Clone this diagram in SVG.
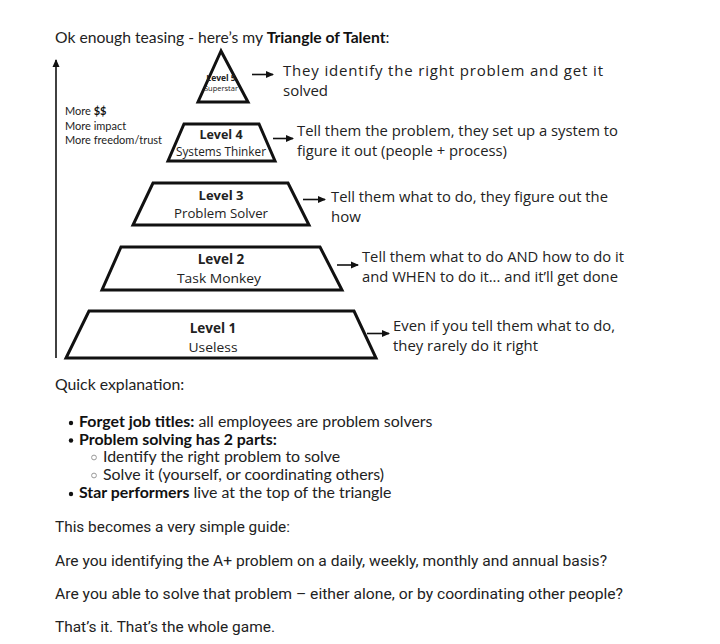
<svg xmlns="http://www.w3.org/2000/svg" width="720" height="644" viewBox="0 0 720 644">
<defs>
<marker id="ah" viewBox="0 0 8 8" refX="7" refY="4" markerWidth="8" markerHeight="8" markerUnits="userSpaceOnUse" orient="auto">
<path d="M0,0.5 L8,4 L0,7.5 z" fill="#111"/>
</marker>
<style>
.t{font-family:"Open Sans","Liberation Sans",sans-serif;fill:#222}
.l{font-family:Lato,"Open Sans","Liberation Sans",sans-serif;fill:#222}
.b{font-weight:bold;fill:#111}
.desc{font-family:"Open Sans","Liberation Sans",sans-serif;font-size:15px;fill:#222}
.lvl{font-family:"Open Sans","Liberation Sans",sans-serif;text-anchor:middle;fill:#222}
.shape{fill:#fff;stroke:#111;stroke-width:3;stroke-linejoin:miter}
.conn{stroke:#111;stroke-width:1.6;fill:none}
.body{font-family:"Roboto","Liberation Sans",sans-serif;font-size:15.5px;fill:#222}
.dot{fill:#111}
.ring{fill:none;stroke:#999;stroke-width:1}
</style>
</defs>
<rect width="720" height="644" fill="#fff"/>

<text class="l" x="55" y="43" font-size="15.7">Ok enough teasing - here’s my <tspan class="b">Triangle of Talent</tspan>:</text>

<g id="axis">
<line class="conn" x1="56" y1="358" x2="56" y2="60" marker-end="url(#ah)"/>
<text class="l" x="65" y="114.5" font-size="11">More <tspan class="b">$$</tspan></text>
<text class="l" x="65" y="130" font-size="11">More impact</text>
<text class="l" x="65" y="143.5" font-size="11">More freedom/trust</text>
</g>

<g id="level5">
<polygon class="shape" points="221,51 198,102 248,102"/>
<text class="lvl b" x="221" y="81" font-size="8.5">Level 5</text>
<text class="lvl" x="221" y="91" font-size="7.5">Superstar</text>
</g>

<g id="level4">
<polygon class="shape" points="184,124 259,124 275,161 168,161"/>
<text class="lvl b" x="221" y="139" font-size="12.5">Level 4</text>
<text class="lvl" x="221" y="155.5" font-size="12.5" textLength="90" lengthAdjust="spacingAndGlyphs">Systems Thinker</text>
</g>

<g id="level3">
<polygon class="shape" points="153,183 288,183 309,225 133,225"/>
<text class="lvl b" x="221" y="200" font-size="13">Level 3</text>
<text class="lvl" x="221" y="218" font-size="13" textLength="94" lengthAdjust="spacingAndGlyphs">Problem Solver</text>
</g>

<g id="level2">
<polygon class="shape" points="121,247 320,247 342,290 102,290"/>
<text class="lvl b" x="221" y="264" font-size="13.5">Level 2</text>
<text class="lvl" x="219" y="283" font-size="13.5" textLength="84" lengthAdjust="spacingAndGlyphs">Task Monkey</text>
</g>

<g id="level1">
<polygon class="shape" points="89,311 354,311 376,358 66,358"/>
<text class="lvl b" x="213" y="333" font-size="13.5">Level 1</text>
<text class="lvl" x="213" y="351.5" font-size="13.5" textLength="49" lengthAdjust="spacingAndGlyphs">Useless</text>
</g>

<g id="connectors">
<line class="conn" x1="252" y1="74.5" x2="273" y2="74.5" marker-end="url(#ah)"/>
<line class="conn" x1="273" y1="138.5" x2="293" y2="138.5" marker-end="url(#ah)"/>
<line class="conn" x1="303" y1="199.5" x2="325" y2="199.5" marker-end="url(#ah)"/>
<line class="conn" x1="337" y1="265" x2="358" y2="265" marker-end="url(#ah)"/>
<line class="conn" x1="367" y1="333.5" x2="389" y2="333.5" marker-end="url(#ah)"/>
</g>

<g id="descriptions">
<text class="desc" x="283" y="75.5" textLength="320" lengthAdjust="spacing">They identify the right problem and get it</text>
<text class="desc" x="283" y="95.5">solved</text>
<text class="desc" x="297" y="135.5" textLength="321" lengthAdjust="spacingAndGlyphs">Tell them the problem, they set up a system to</text>
<text class="desc" x="297" y="155.5" textLength="210" lengthAdjust="spacingAndGlyphs">figure it out (people + process)</text>
<text class="desc" x="331" y="202" textLength="277" lengthAdjust="spacingAndGlyphs">Tell them what to do, they figure out the</text>
<text class="desc" x="331" y="222">how</text>
<text class="desc" x="362" y="262" textLength="262" lengthAdjust="spacingAndGlyphs">Tell them what to do AND how to do it</text>
<text class="desc" x="362" y="282" textLength="256" lengthAdjust="spacingAndGlyphs">and WHEN to do it... and it’ll get done</text>
<text class="desc" x="393" y="330.5" textLength="222" lengthAdjust="spacingAndGlyphs">Even if you tell them what to do,</text>
<text class="desc" x="393" y="350.5" textLength="145" lengthAdjust="spacingAndGlyphs">they rarely do it right</text>
</g>

<g id="explanation">
<text class="l" x="55" y="390" font-size="15.8">Quick explanation:</text>
<circle class="dot" cx="71" cy="423" r="2.2"/>
<text class="l" x="79" y="427" font-size="15.9"><tspan class="b">Forget job titles:</tspan> all employees are problem solvers</text>
<circle class="dot" cx="71" cy="440.5" r="2.2"/>
<text class="l b" x="79" y="444.5" font-size="15.9">Problem solving has 2 parts:</text>
<circle class="ring" cx="94" cy="457.5" r="2.4"/>
<text class="l" x="103" y="462" font-size="15.9">Identify the right problem to solve</text>
<circle class="ring" cx="94" cy="475.5" r="2.4"/>
<text class="l" x="103" y="480" font-size="15.9">Solve it (yourself, or coordinating others)</text>
<circle class="dot" cx="71" cy="494" r="2.2"/>
<text class="l" x="79" y="498" font-size="15.9"><tspan class="b">Star performers</tspan> live at the top of the triangle</text>
</g>

<g id="guide">
<text class="body" x="55" y="532" textLength="235" lengthAdjust="spacingAndGlyphs">This becomes a very simple guide:</text>
<text class="body" x="55" y="565.5" textLength="552" lengthAdjust="spacingAndGlyphs">Are you identifying the A+ problem on a daily, weekly, monthly and annual basis?</text>
<text class="body" x="55" y="598.5" textLength="568" lengthAdjust="spacingAndGlyphs">Are you able to solve that problem – either alone, or by coordinating other people?</text>
<text class="body" x="55" y="632" textLength="220" lengthAdjust="spacingAndGlyphs">That’s it. That’s the whole game.</text>
</g>
</svg>
